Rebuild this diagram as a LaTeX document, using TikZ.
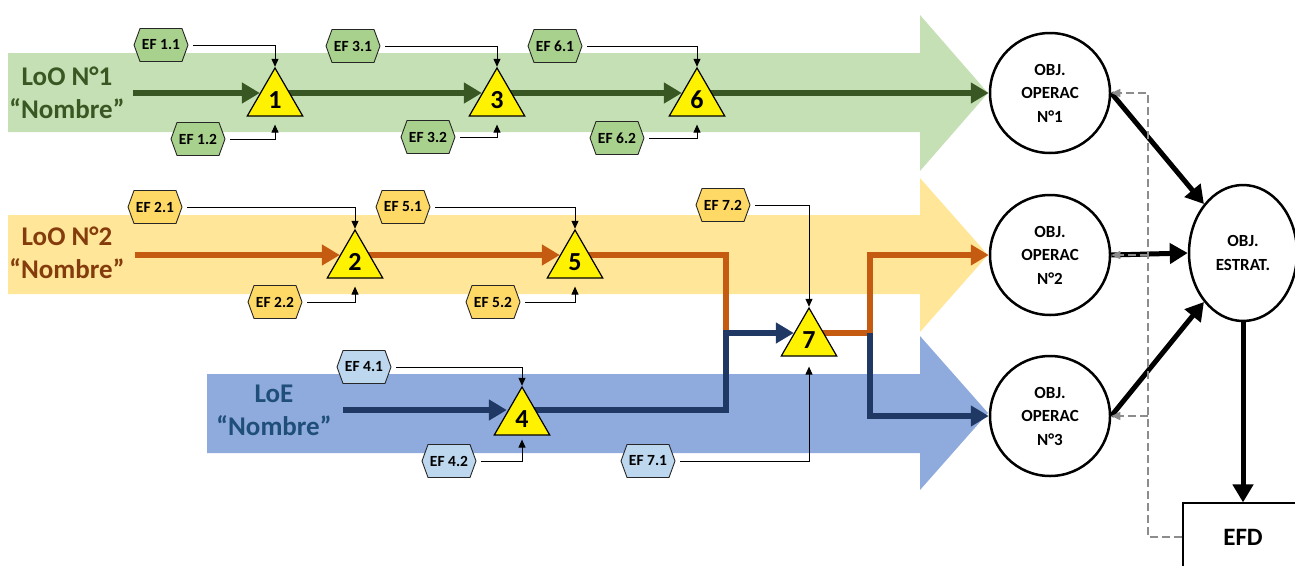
\documentclass[tikz,border=0pt]{standalone}
\usepackage{fontspec}
\setmainfont{Carlito}
\usepackage{tikz}
\usetikzlibrary{shapes.geometric,shapes.symbols,arrows.meta}
\pgfdeclarelayer{bg}
\pgfdeclarelayer{flow}
\pgfsetlayers{bg,flow,main}

\definecolor{bandgreen}{HTML}{C5E0B4}
\definecolor{linegreen}{HTML}{385723}
\definecolor{hexgreen}{HTML}{A9D18E}
\definecolor{bandorange}{HTML}{FFE699}
\definecolor{lineorange}{HTML}{C55A11}
\definecolor{textorange}{HTML}{843C0C}
\definecolor{hexorange}{HTML}{FFD966}
\definecolor{bandblue}{HTML}{8FAADC}
\definecolor{lineblue}{HTML}{203864}
\definecolor{textblue}{HTML}{1F4E79}
\definecolor{hexblue}{HTML}{BDD7EE}
\definecolor{feedgray}{HTML}{8C8C8C}

\tikzset{
	pc/.style={regular polygon, regular polygon sides=3, draw=black, line width=1.2pt,
		fill=yellow, minimum size=64pt, inner sep=0pt, font=\fontsize{26}{26}\selectfont\bfseries},
	ef/.style={signal, signal to=east and west, signal pointer angle=140, draw=black!85,
		line width=0.9pt, minimum height=33pt, minimum width=54pt, inner xsep=1pt, inner ysep=0pt,
		font=\fontsize{15.5}{16}\selectfont\bfseries},
	efarrow/.style={-{Triangle[length=8pt,width=7pt]}, line width=1pt, shorten <=5pt},
	lineflow/.style={line width=6pt, -{Triangle[length=18pt,width=20pt]}},
	intri/.style={shorten >=-4pt},
	obj/.style={circle, draw=black, line width=2.5pt, fill=white, minimum size=120pt,
		inner sep=0pt, align=center, font=\fontsize{17}{23.5}\selectfont\bfseries},
	objarrow/.style={line width=5pt, -{Triangle[length=18pt,width=20pt]}},
	fbarrow/.style={draw=feedgray, line width=1.5pt, dash pattern=on 8pt off 4pt,
		-{Triangle[length=9pt,width=8pt]}},
	lotitle/.style={align=center, font=\fontsize{27}{33}\selectfont\bfseries},
}

\begin{document}
\begin{tikzpicture}[x=1pt,y=-1pt]
	\useasboundingbox (0,0) rectangle (1295,565);
	\clip (0,0) rectangle (1295,565);

	%% Lines of operation (background arrows)
	\begin{pgfonlayer}{bg}
		\fill[bandgreen] (8,53) -- (920,53) -- (920,15) -- (988,93) -- (920,171) -- (920,132) -- (8,132) -- cycle;
		\fill[bandorange] (8,215) -- (920,215) -- (920,178) -- (988,255) -- (920,332) -- (920,294) -- (8,294) -- cycle;
		\fill[bandblue] (207,374) -- (920,374) -- (920,336) -- (988,413) -- (920,490) -- (920,453) -- (207,453) -- cycle;
	\end{pgfonlayer}

	\node[lotitle, text=linegreen] (lo1) at (67,93) {LoO N°1\\“Nombre”};
	\node[lotitle, text=textorange] (lo2) at (67,253) {LoO N°2\\“Nombre”};
	\node[lotitle, text=textblue] (loe) at (274,410) {LoE\\“Nombre”};

	%% Decision points
	\node[pc] (t1) at (275,100) {1};
	\node[pc] (t3) at (497,100) {3};
	\node[pc] (t6) at (697,100) {6};
	\node[pc] (t2) at (355,262) {2};
	\node[pc] (t5) at (575,262) {5};
	\node[pc] (t4) at (522,419) {4};
	\node[pc] (t7) at (809,340) {7};

	%% Objectives
	\node[obj] (op1) at (1050,93) {OBJ.\\OPERAC\\N°1};
	\node[obj] (op2) at (1050,255) {OBJ.\\OPERAC\\N°2};
	\node[obj] (op3) at (1050,416) {OBJ.\\OPERAC\\N°3};
	\node[ellipse, draw=black, line width=2.5pt, fill=white, minimum width=108pt, minimum height=136pt,
		inner sep=0pt, align=center, font=\fontsize{17}{23.5}\selectfont\bfseries] (estrat) at (1243,253) {OBJ.\\ESTRAT.};
	\node[draw=black, line width=1.2pt, fill=white, minimum width=120pt, minimum height=68pt,
		font=\fontsize{25}{25}\selectfont\bfseries] (efd) at (1243,537) {EFD};

	%% Effects
	\node[ef, fill=hexgreen] (ef11) at (161,45) {EF 1.1};
	\node[ef, fill=hexgreen] (ef12) at (198,139) {EF 1.2};
	\node[ef, fill=hexgreen] (ef31) at (353,46) {EF 3.1};
	\node[ef, fill=hexgreen] (ef32) at (428,137) {EF 3.2};
	\node[ef, fill=hexgreen] (ef61) at (555,46) {EF 6.1};
	\node[ef, fill=hexgreen] (ef62) at (617,138) {EF 6.2};
	\node[ef, fill=hexorange] (ef21) at (155,207) {EF 2.1};
	\node[ef, fill=hexorange] (ef22) at (275,302) {EF 2.2};
	\node[ef, fill=hexorange] (ef51) at (403,207) {EF 5.1};
	\node[ef, fill=hexorange] (ef52) at (493,302) {EF 5.2};
	\node[ef, fill=hexorange] (ef72) at (723,205) {EF 7.2};
	\node[ef, fill=hexblue] (ef41) at (364,367) {EF 4.1};
	\node[ef, fill=hexblue] (ef42) at (449,461) {EF 4.2};
	\node[ef, fill=hexblue] (ef71) at (648,461) {EF 7.1};

	\coordinate (g0) at (133,93);
	\coordinate (o0) at (135,255);
	\coordinate (b0) at (343,410);
	\coordinate (j1) at (726,333);
	\coordinate (j2) at (870,333);
	\coordinate (fbx) at (1148,537);

	%% Flows
	\begin{pgfonlayer}{flow}
		\draw[lineflow, linegreen, intri] (g0) -- (t1.west |- g0);
		\draw[lineflow, linegreen, intri] (t1 |- g0) -- (t3.west |- g0);
		\draw[lineflow, linegreen, intri] (t3 |- g0) -- (t6.west |- g0);
		\draw[lineflow, linegreen] (t6 |- g0) -- (op1.west);
		\draw[lineflow, lineorange, intri] (o0) -- (t2.west |- o0);
		\draw[lineflow, lineorange, intri] (t2 |- o0) -- (t5.west |- o0);
		\draw[lineflow, lineorange, -] (t5 |- o0) -| (j1);
		\draw[lineflow, lineorange] (t7 |- j1) -- (j2) |- (op2.west);
		\draw[lineflow, lineblue, intri] (b0) -- (t4.west |- b0);
		\draw[lineflow, lineblue, intri] (t4 |- b0) -| (j1) -- (t7.west |- j1);
		\draw[lineflow, lineblue] (j2) |- (op3.west);
	\end{pgfonlayer}

	% effects into decision points
	\draw[efarrow] (ef11.east) -| (t1.north);
	\draw[efarrow, shorten >=8pt] (ef12.east) -| (t1.south);
	\draw[efarrow] (ef31.east) -| (t3.north);
	\draw[efarrow, shorten >=8pt] (ef32.east) -| (t3.south);
	\draw[efarrow] (ef61.east) -| (t6.north);
	\draw[efarrow, shorten >=8pt] (ef62.east) -| (t6.south);
	\draw[efarrow] (ef21.east) -| (t2.north);
	\draw[efarrow, shorten >=8pt] (ef22.east) -| (t2.south);
	\draw[efarrow] (ef51.east) -| (t5.north);
	\draw[efarrow, shorten >=8pt] (ef52.east) -| (t5.south);
	\draw[efarrow] (ef72.east) -| (t7.north);
	\draw[efarrow, shorten >=10pt] (ef71.east) -| (t7.south);
	\draw[efarrow] (ef41.east) -| (t4.north);
	\draw[efarrow, shorten >=4pt] (ef42.east) -| (t4.south);

	% objectives
	\draw[objarrow] (op1.east) -- (estrat.north west);
	\draw[objarrow] (op2.east) -- (estrat.west);
	\draw[objarrow] (op3.east) -- (estrat.south west);
	\draw[objarrow] (estrat.south) -- (efd.north);

	% feedback
	\draw[fbarrow] (efd.west) -- (fbx) |- (op1.east);
	\draw[fbarrow] (fbx |- op2.east) -- (op2.east);
	\draw[fbarrow] (fbx |- op3.east) -- (op3.east);
\end{tikzpicture}
\end{document}
